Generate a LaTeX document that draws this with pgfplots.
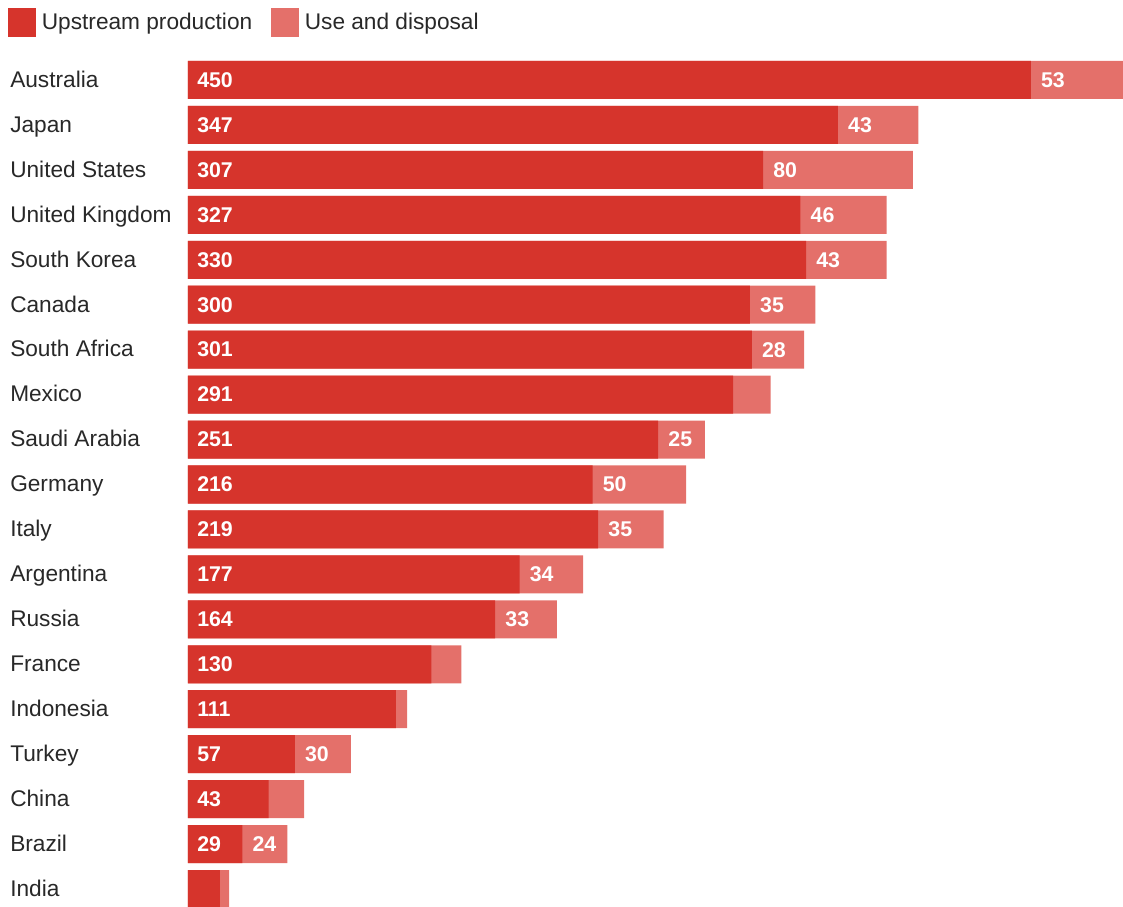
\documentclass[border=0pt]{standalone}
\usepackage{pgfplots}
\pgfplotsset{compat=1.18}
\usepackage{pgfplotstable}
\usepackage{fontspec}
\setmainfont{Liberation Sans}
\definecolor{upc}{RGB}{214,52,44}
\definecolor{usec}{RGB}{228,112,106}
\definecolor{txt}{RGB}{40,40,40}

\pgfplotstableread{
idx up use ul sl
0 450 53 450 53
1 347 43 347 43
2 307 80 307 80
3 327 46 327 46
4 330 43 330 43
5 300 35 300 35
6 301 28 301 28
7 291 20 291 {}
8 251 25 251 25
9 216 50 216 50
10 219 35 219 35
11 177 34 177 34
12 164 33 164 33
13 130 16 130 {}
14 111 6 111 {}
15 57 30 57 30
16 43 19 43 {}
17 29 24 29 24
18 17 5 {} {}
}\data

\begin{document}
\begin{tikzpicture}
\begin{axis}[
  scale only axis, width=701.25pt, height=636.375pt,
  xmin=0, xmax=499.2, ymin=-0.5, ymax=18.378, y dir=reverse,
  axis line style={draw=none}, tick style={draw=none}, xtick=\empty,
  ytick={0,...,18},
  yticklabels={Australia,Japan,United States,United Kingdom,South Korea,Canada,South Africa,Mexico,Saudi Arabia,Germany,Italy,Argentina,Russia,France,Indonesia,Turkey,China,Brazil,India},
  yticklabel style={anchor=base west, inner sep=0pt, xshift=-133.5pt, yshift=-5.5pt, font=\fontsize{17}{20}\selectfont, text=txt},
  clip=true,
  legend columns=2,
  legend cell align=left,
  legend style={at={(-0.1925,1.0583)}, anchor=north west, draw=none, fill=none,
    inner sep=0pt, outer sep=0pt, column sep=3pt,
    font=\fontsize{17}{20}\selectfont, text=txt,
    /tikz/every even column/.append style={column sep=12pt}},
]
\coordinate (SW) at (axis description cs:0,0);
\coordinate (NE) at (axis description cs:1,1);
\addlegendimage{legend image code/.code={\fill[upc] (0pt,-10.5pt) rectangle (20pt,10.5pt);}}
\addlegendentry{Upstream production}
\addlegendimage{legend image code/.code={\fill[usec] (0pt,-10.5pt) rectangle (20pt,10.5pt);}}
\addlegendentry{Use and disposal}
\addplot[xbar, bar width=0.8456, bar shift=0pt, fill=usec, draw=none, forget plot]
  table[x expr=\thisrow{up}+\thisrow{use}, y=idx]{\data};
\addplot[xbar, bar width=0.8456, bar shift=0pt, fill=upc, draw=none, forget plot]
  table[x=up, y=idx]{\data};
\addplot[draw=none, mark=none, forget plot, nodes near coords, point meta=explicit symbolic,
  nodes near coords style={anchor=west, xshift=6.75pt, text=white, inner sep=0pt,
  font=\bfseries\fontsize{16}{18}\selectfont}]
  table[x expr=0, y=idx, meta=ul]{\data};
\addplot[draw=none, mark=none, forget plot, nodes near coords, point meta=explicit symbolic,
  nodes near coords style={anchor=west, xshift=7.5pt, text=white, inner sep=0pt,
  font=\bfseries\fontsize{16}{18}\selectfont}]
  table[x=up, y=idx, meta=sl]{\data};
\end{axis}
\pgfresetboundingbox
\useasboundingbox ([xshift=-141pt]SW) rectangle ([yshift=43.125pt]NE);
\end{tikzpicture}
\end{document}
